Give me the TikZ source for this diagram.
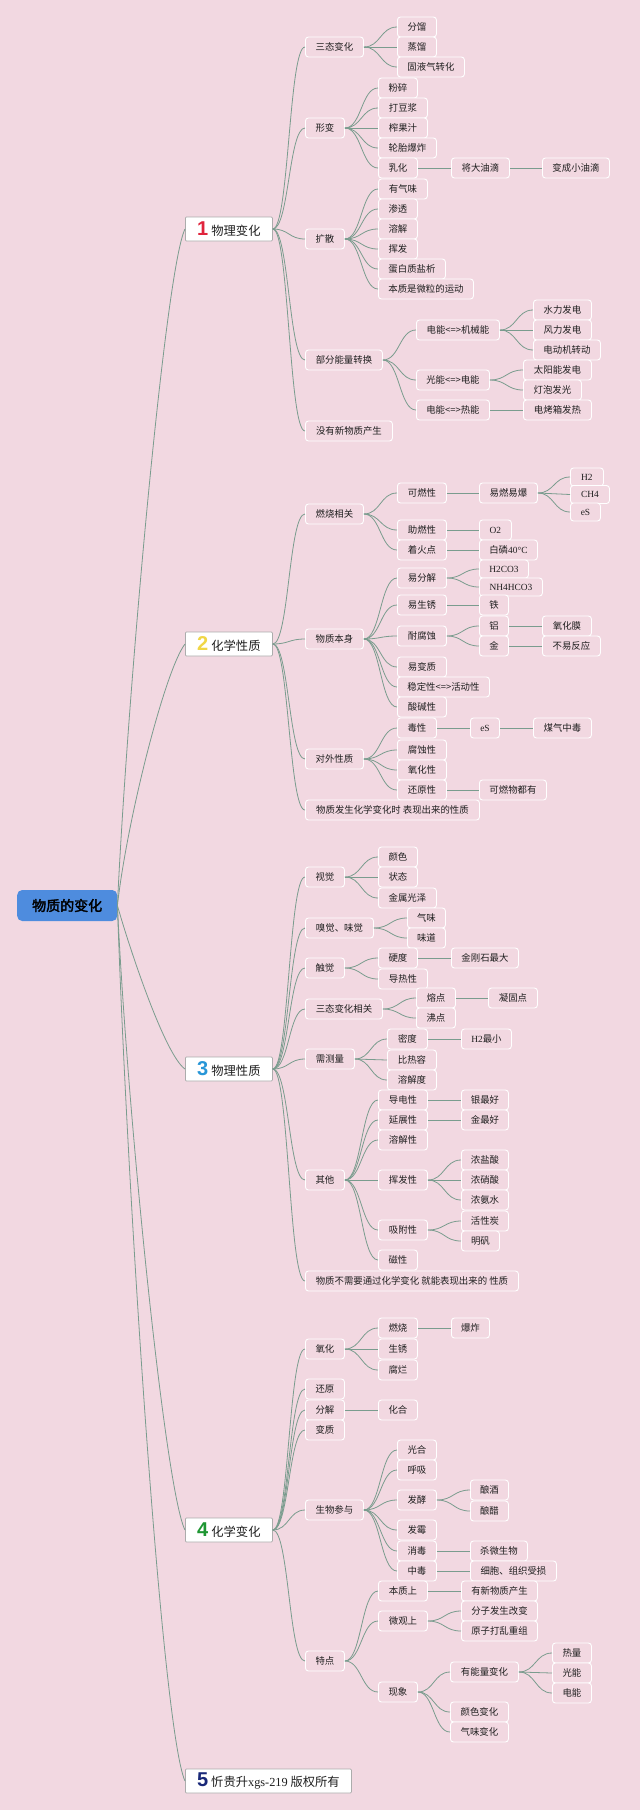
\documentclass[tikz,border=0pt]{standalone}
\usepackage{fontspec}
\setmainfont{Noto Sans CJK SC}
\newfontfamily\lat{Liberation Serif}
\newfontfamily\digf{Liberation Sans}
\newfontfamily\cjkb{Noto Sans CJK SC}[FakeBold=2.5]
\usetikzlibrary{calc}
\definecolor{bg}{RGB}{242,216,225}
\definecolor{lnc}{RGB}{122,156,142}
\definecolor{rootblue}{RGB}{78,140,222}
\definecolor{nred}{RGB}{224,36,60}
\definecolor{nyel}{RGB}{240,214,70}
\definecolor{nblu}{RGB}{40,150,215}
\definecolor{ngrn}{RGB}{30,150,50}
\definecolor{nnav}{RGB}{25,40,120}
\tikzset{
  cbox/.style={draw=white, line width=0.9pt, fill=bg, rounded corners=3pt, anchor=west,
    minimum height=20, inner xsep=0pt, inner ysep=0pt,
    font=\fontsize{9.4}{10}\selectfont, text=black!88},
  sm/.style={minimum height=18},
  l1box/.style={draw=gray!65, fill=white, line width=0.8pt, anchor=west, rounded corners=1pt,
    minimum height=24, inner sep=0pt, font=\fontsize{12.3}{14}\selectfont, text=black!88},
  rootbox/.style={fill=rootblue, rounded corners=5pt, anchor=west, minimum width=100,
    minimum height=31, inner sep=0pt, font=\cjkb\fontsize{14}{16}\selectfont, text=black},
  lnk/.style={draw=lnc, line width=0.8pt},
}
\newcommand\nd[6][]{\node[cbox,#1,minimum width=#5] (#2) at (#3,#4) {#6};}
\newcommand\lk[2]{\draw[lnk] let \p1=(#1.east), \p2=(#2.west), \p3=($(\p1)!0.5!(\p2)$) in
  (\p1) .. controls (\x3,\y1) and (\x3,\y2) .. (\p2);}
\newcommand\dg[2]{{\digf\bfseries\fontsize{20}{20}\selectfont\color{#1}#2}\hspace{3pt}}
\begin{document}
\begin{tikzpicture}[x=1pt,y=-1pt]
\fill[bg] (0,0) rectangle (640,1810);
\useasboundingbox (0,0) rectangle (640,1810);

% root and level 1
\node[rootbox] (R) at (17,905.5) {物质的变化};
\node[l1box,minimum width=87] (A1) at (185,229) {\dg{nred}{1}物理变化};
\node[l1box,minimum width=87] (A2) at (185,644) {\dg{nyel}{2}化学性质};
\node[l1box,minimum width=87] (A3) at (185,1069) {\dg{nblu}{3}物理性质};
\node[l1box,minimum width=87] (A4) at (185,1530) {\dg{ngrn}{4}化学变化};
\node[l1box,minimum width=166] (A5) at (185,1781) {\dg{nnav}{5}忻贵升{\lat xgs-219} 版权所有};

\draw[lnk] (R.east) .. controls (127,700) and (165,270) .. (A1.west);
\draw[lnk] (R.east) .. controls (127,820) and (165,670) .. (A2.west);
\draw[lnk] (R.east) .. controls (130,950) and (165,1055) .. (A3.west);
\draw[lnk] (R.east) .. controls (127,1110) and (165,1490) .. (A4.west);
\draw[lnk] (R.east) .. controls (127,1190) and (162,1730) .. (A5.west);

% ---------- branch 1
\nd{b1}{305}{47}{58}{三态变化}
\nd{b11}{397}{27}{39}{分馏}
\nd{b12}{397}{47}{39}{蒸馏}
\nd{b13}{397}{67}{67}{固液气转化}
\nd{b2}{305}{128}{39}{形变}
\nd{b21}{378}{88}{39}{粉碎}
\nd{b22}{378}{108}{49}{打豆浆}
\nd{b23}{378}{128}{49}{榨果汁}
\nd{b24}{378}{148}{58}{轮胎爆炸}
\nd{b25}{378}{168}{39}{乳化}
\nd{b251}{451}{168}{58}{将大油滴}
\nd{b252}{542}{168}{67}{变成小油滴}
\nd{b3}{305}{239}{39}{扩散}
\nd{b31}{378}{189}{49}{有气味}
\nd{b32}{378}{209}{39}{渗透}
\nd{b33}{378}{229}{39}{溶解}
\nd{b34}{378}{249}{39}{挥发}
\nd{b35}{378}{269}{67}{蛋白质盐析}
\nd{b36}{378}{289}{95}{本质是微粒的运动}
\nd{b4}{305}{360}{77}{部分能量转换}
\nd{b41}{416}{330}{83}{电能<=>机械能}
\nd{b411}{533}{310}{58}{水力发电}
\nd{b412}{533}{330}{58}{风力发电}
\nd{b413}{533}{350}{67}{电动机转动}
\nd{b42}{416}{380}{73}{光能<=>电能}
\nd{b421}{523}{370}{68}{太阳能发电}
\nd{b422}{523}{390}{58}{灯泡发光}
\nd{b43}{416}{410}{73}{电能<=>热能}
\nd{b431}{523}{410}{68}{电烤箱发热}
\nd{b5}{305}{431}{87}{没有新物质产生}

\foreach \c in {b1,b2,b3,b4,b5} {\lk{A1}{\c}}
\foreach \c in {b11,b12,b13} {\lk{b1}{\c}}
\foreach \c in {b21,b22,b23,b24,b25} {\lk{b2}{\c}}
\lk{b25}{b251} \lk{b251}{b252}
\foreach \c in {b31,b32,b33,b34,b35,b36} {\lk{b3}{\c}}
\foreach \c in {b41,b42,b43} {\lk{b4}{\c}}
\foreach \c in {b411,b412,b413} {\lk{b41}{\c}}
\foreach \c in {b421,b422} {\lk{b42}{\c}}
\lk{b43}{b431}

% ---------- branch 2
\nd{d1}{305}{514}{58}{燃烧相关}
\nd{d11}{397}{493}{49}{可燃性}
\nd{d111}{479}{493}{58}{易燃易爆}
\nd[sm]{d1111}{570}{477}{33}{\lat H2}
\nd[sm]{d1112}{570}{494.5}{39}{\lat CH4}
\nd[sm]{d1113}{570}{512}{30}{\lat eS}
\nd{d12}{397}{530}{49}{助燃性}
\nd{d121}{479}{530}{32}{\lat O2}
\nd{d13}{397}{550}{49}{着火点}
\nd{d131}{479}{550}{58}{白磷{\lat 40°C}}
\nd{d2}{305}{639}{58}{物质本身}
\nd{d21}{397}{578}{49}{易分解}
\nd[sm]{d211}{479}{569}{49}{\lat H2CO3}
\nd[sm]{d212}{479}{587}{63}{\lat NH4HCO3}
\nd{d22}{397}{605}{49}{易生锈}
\nd{d221}{479}{605}{29}{铁}
\nd{d23}{397}{636}{49}{耐腐蚀}
\nd{d231}{479}{626}{29}{铝}
\nd{d2311}{542}{626}{49}{氧化膜}
\nd{d232}{479}{646}{29}{金}
\nd{d2321}{542}{646}{58}{不易反应}
\nd{d24}{397}{667}{49}{易变质}
\nd{d25}{397}{687}{92}{稳定性<=>活动性}
\nd{d26}{397}{707}{49}{酸碱性}
\nd{d3}{305}{759}{58}{对外性质}
\nd{d31}{397}{728}{39}{毒性}
\nd{d311}{470}{728}{29}{\lat eS}
\nd{d3111}{533}{728}{58}{煤气中毒}
\nd{d32}{397}{750}{49}{腐蚀性}
\nd{d33}{397}{770}{49}{氧化性}
\nd{d34}{397}{790}{49}{还原性}
\nd{d341}{479}{790}{67}{可燃物都有}
\nd{d4}{305}{810}{174}{物质发生化学变化时 表现出来的性质}

\foreach \c in {d1,d2,d3,d4} {\lk{A2}{\c}}
\foreach \c in {d11,d12,d13} {\lk{d1}{\c}}
\lk{d11}{d111} \lk{d12}{d121} \lk{d13}{d131}
\foreach \c in {d1111,d1112,d1113} {\lk{d111}{\c}}
\foreach \c in {d21,d22,d23,d24,d25,d26} {\lk{d2}{\c}}
\lk{d21}{d211} \lk{d21}{d212} \lk{d22}{d221}
\lk{d23}{d231} \lk{d23}{d232} \lk{d231}{d2311} \lk{d232}{d2321}
\foreach \c in {d31,d32,d33,d34} {\lk{d3}{\c}}
\lk{d31}{d311} \lk{d311}{d3111} \lk{d34}{d341}

% ---------- branch 3
\nd{e1}{305}{877}{39}{视觉}
\nd{e11}{378}{857}{39}{颜色}
\nd{e12}{378}{877}{39}{状态}
\nd{e13}{378}{898}{58}{金属光泽}
\nd{e2}{305}{928}{68}{嗅觉、味觉}
\nd{e21}{407}{918}{38}{气味}
\nd{e22}{407}{938}{38}{味道}
\nd{e3}{305}{968}{39}{触觉}
\nd{e31}{378}{958}{39}{硬度}
\nd{e311}{451}{958}{67}{金刚石最大}
\nd{e32}{378}{979}{49}{导热性}
\nd{e4}{305}{1009}{77}{三态变化相关}
\nd{e41}{416}{998}{39}{熔点}
\nd{e411}{488}{998}{49}{凝固点}
\nd{e42}{416}{1018}{39}{沸点}
\nd{e5}{305}{1059}{49}{需测量}
\nd{e51}{387}{1039}{40}{密度}
\nd{e511}{461}{1039}{50}{{\lat H2}最小}
\nd{e52}{387}{1060}{49}{比热容}
\nd{e53}{387}{1080}{49}{溶解度}
\nd{e6}{305}{1180}{39}{其他}
\nd{e61}{378}{1100}{49}{导电性}
\nd{e611}{461}{1100}{47}{银最好}
\nd{e62}{378}{1120}{49}{延展性}
\nd{e621}{461}{1120}{47}{金最好}
\nd{e63}{378}{1140}{49}{溶解性}
\nd{e64}{378}{1180}{49}{挥发性}
\nd{e641}{461}{1160}{47}{浓盐酸}
\nd{e642}{461}{1180}{47}{浓硝酸}
\nd{e643}{461}{1200}{47}{浓氨水}
\nd{e65}{378}{1230}{49}{吸附性}
\nd{e651}{461}{1221}{47}{活性炭}
\nd{e652}{461}{1241}{38}{明矾}
\nd{e66}{378}{1260}{39}{磁性}
\nd{e7}{305}{1281}{213}{物质不需要通过化学变化 就能表现出来的 性质}

\foreach \c in {e1,e2,e3,e4,e5,e6,e7} {\lk{A3}{\c}}
\foreach \c in {e11,e12,e13} {\lk{e1}{\c}}
\foreach \c in {e21,e22} {\lk{e2}{\c}}
\lk{e3}{e31} \lk{e3}{e32} \lk{e31}{e311}
\lk{e4}{e41} \lk{e4}{e42} \lk{e41}{e411}
\foreach \c in {e51,e52,e53} {\lk{e5}{\c}}
\lk{e51}{e511}
\foreach \c in {e61,e62,e63,e64,e65,e66} {\lk{e6}{\c}}
\lk{e61}{e611} \lk{e62}{e621}
\foreach \c in {e641,e642,e643} {\lk{e64}{\c}}
\lk{e65}{e651} \lk{e65}{e652}

% ---------- branch 4
\nd{f1}{305}{1349}{39}{氧化}
\nd{f11}{378}{1328}{39}{燃烧}
\nd{f111}{451}{1328}{38}{爆炸}
\nd{f12}{378}{1349}{39}{生锈}
\nd{f13}{378}{1370}{39}{腐烂}
\nd{f2}{305}{1389}{39}{还原}
\nd{f3}{305}{1410}{39}{分解}
\nd{f31}{378}{1410}{39}{化合}
\nd{f4}{305}{1430}{39}{变质}
\nd{f5}{305}{1510}{58}{生物参与}
\nd{f51}{397}{1450}{39}{光合}
\nd{f52}{397}{1470}{39}{呼吸}
\nd{f53}{397}{1500}{39}{发酵}
\nd{f531}{470}{1490}{38}{酿酒}
\nd{f532}{470}{1511}{38}{酿醋}
\nd{f54}{397}{1530}{39}{发霉}
\nd{f55}{397}{1551}{39}{消毒}
\nd{f551}{470}{1551}{57}{杀微生物}
\nd{f56}{397}{1571}{39}{中毒}
\nd{f561}{470}{1571}{86}{细胞、组织受损}
\nd{f6}{305}{1661}{39}{特点}
\nd{f61}{378}{1591}{49}{本质上}
\nd{f611}{461}{1591}{76}{有新物质产生}
\nd{f62}{378}{1621}{49}{微观上}
\nd{f621}{461}{1611}{76}{分子发生改变}
\nd{f622}{461}{1631}{76}{原子打乱重组}
\nd{f63}{378}{1692}{39}{现象}
\nd{f631}{450}{1672}{68}{有能量变化}
\nd{f6311}{552}{1653}{39}{热量}
\nd{f6312}{552}{1673}{39}{光能}
\nd{f6313}{552}{1693}{39}{电能}
\nd{f632}{450}{1712}{58}{颜色变化}
\nd{f633}{450}{1732}{58}{气味变化}

\foreach \c in {f1,f2,f3,f4,f5,f6} {\lk{A4}{\c}}
\foreach \c in {f11,f12,f13} {\lk{f1}{\c}}
\lk{f11}{f111} \lk{f3}{f31}
\foreach \c in {f51,f52,f53,f54,f55,f56} {\lk{f5}{\c}}
\lk{f53}{f531} \lk{f53}{f532} \lk{f55}{f551} \lk{f56}{f561}
\foreach \c in {f61,f62,f63} {\lk{f6}{\c}}
\lk{f61}{f611} \lk{f62}{f621} \lk{f62}{f622}
\foreach \c in {f631,f632,f633} {\lk{f63}{\c}}
\foreach \c in {f6311,f6312,f6313} {\lk{f631}{\c}}
\end{tikzpicture}
\end{document}
